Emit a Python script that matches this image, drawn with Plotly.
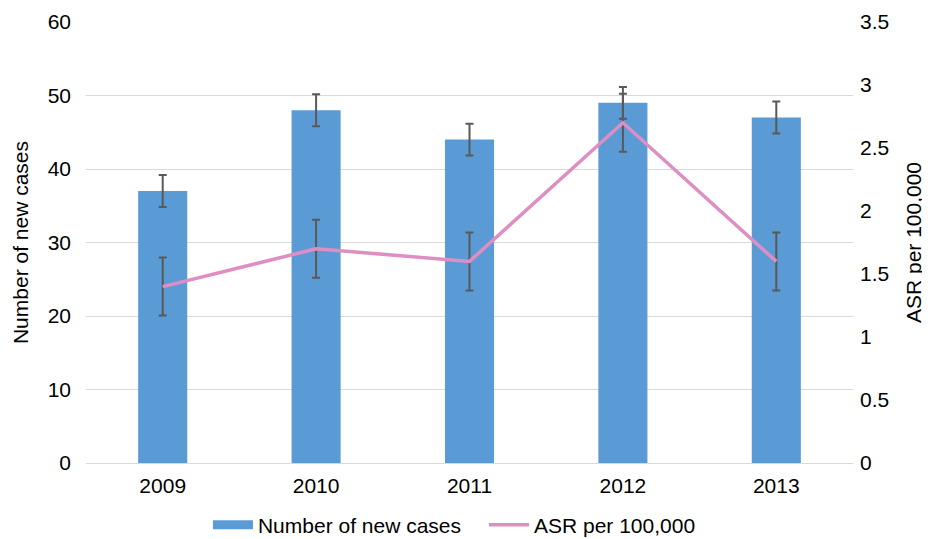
import plotly.graph_objects as go

years = ["2009", "2010", "2011", "2012", "2013"]
new_cases = [37, 48, 44, 49, 47]
new_cases_err = [2.17, 2.17, 2.17, 2.17, 2.17]
asr = [1.4, 1.7, 1.6, 2.7, 1.6]
asr_err = [0.23, 0.23, 0.23, 0.23, 0.23]

left_ticks = [0, 10, 20, 30, 40, 50, 60]
right_ticks = [0, 0.5, 1, 1.5, 2, 2.5, 3, 3.5]
right_tick_text = ["0", "0.5", "1", "1.5", "2", "2.5", "3", "3.5"]

FONT = "Liberation Sans, Arial, sans-serif"
FS = 21
BLUE = "#5B9BD5"
PINK = "#DF8EC4"

fig = go.Figure()
fig.add_trace(go.Bar(
    x=years, y=new_cases, name="Number of new cases",
    marker=dict(color=BLUE, line=dict(width=0)),
    width=0.32, showlegend=False,
    error_y=dict(type="data", array=new_cases_err, visible=True,
                 color="#595959", thickness=2, width=4),
))
# legend entry drawn as a wide rectangle like the original
fig.add_trace(go.Scatter(
    x=[None], y=[None], name="Number of new cases", mode="lines",
    line=dict(color=BLUE, width=9), showlegend=True, hoverinfo="skip",
))
fig.add_trace(go.Scatter(
    x=years, y=asr, name="ASR per 100,000", yaxis="y2",
    mode="lines", line=dict(color=PINK, width=3.5),
    error_y=dict(type="data", array=asr_err, visible=True,
                 color="#595959", thickness=2, width=4),
))

# the page body adds an 8px margin, so the figure is sized 922x531
fig.update_layout(
    width=922, height=531,
    margin=dict(l=78, r=77, t=14, b=76, autoexpand=False),
    plot_bgcolor="white", paper_bgcolor="white",
    font=dict(family=FONT, size=FS, color="#000000"),
    showlegend=True,
    legend=dict(orientation="h", x=0.159, xanchor="left", xref="paper",
                y=0.026, yanchor="middle", yref="container",
                font=dict(size=FS), traceorder="normal", itemwidth=40,
                entrywidth=221, entrywidthmode="pixels"),
    xaxis=dict(showgrid=False, showline=True, linecolor="#D9D9D9", linewidth=1,
               ticks="", tickfont=dict(size=FS), ticklabelstandoff=4),
    yaxis=dict(range=[0, 60], tickvals=left_ticks, showgrid=True,
               gridcolor="#D9D9D9", gridwidth=1, zeroline=False,
               title=dict(text="Number of new cases", font=dict(size=FS), standoff=13),
               ticks="", tickfont=dict(size=FS), ticklabelstandoff=14),
    yaxis2=dict(range=[0, 3.5], tickvals=right_ticks, ticktext=right_tick_text,
                overlaying="y", side="right", showgrid=False, zeroline=False,
                title=dict(text="ASR per 100,000", font=dict(size=FS), standoff=18),
                ticks="", tickfont=dict(size=FS), ticklabelstandoff=6),
)

fig.write_html("out.html")
